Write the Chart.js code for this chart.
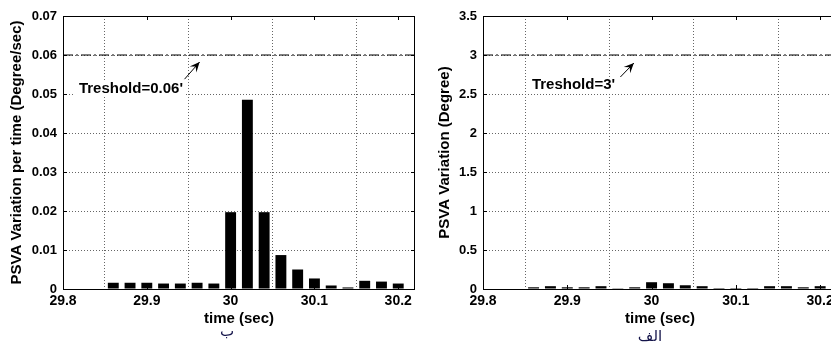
<!DOCTYPE html>
<html>
<head>
<meta charset="utf-8">
<script src="https://cdn.jsdelivr.net/npm/chart.js@4/dist/chart.umd.min.js"></script>
<style>
    html, body { margin: 0; padding: 0; background: #fff; overflow: hidden; width: 831px; height: 343px; }
    .panel { position: absolute; top: 0; width: 420px; height: 343px; }
    .caption { position: absolute; transform: translateX(-50%); font-family: "DejaVu Sans", sans-serif;
               font-size: 15px; line-height: 16px; color: #14144a; white-space: nowrap; }
</style>
</head>
<body>
<div class="panel" style="left:0"><canvas id="rate-canvas" width="420" height="343"></canvas></div>
<div class="panel" style="left:420px"><canvas id="variation-canvas" width="420" height="343"></canvas></div>
<div class="caption" style="left:227px; top:323px">ب</div>
<div class="caption" style="left:650px; top:328px">الف</div>
<script>
// bar centres (sec)
const barTimes = [29.86, 29.88, 29.90, 29.92, 29.94, 29.96, 29.98, 30.00, 30.02,
                  30.04, 30.06, 30.08, 30.10, 30.12, 30.14, 30.16, 30.18, 30.20];
// PSVA variation per time (Degree/sec)
const rateValues = [0.0016, 0.0016, 0.0016, 0.0014, 0.0014, 0.0016, 0.0014, 0.0197, 0.0485,
                    0.0197, 0.0087, 0.0050, 0.0027, 0.0009, 0.0004, 0.0021, 0.0019, 0.0014];
// PSVA variation (Degree)
const variationValues = [0.022, 0.036, 0.022, 0.022, 0.036, 0.01, 0.022, 0.087, 0.074,
                         0.048, 0.036, 0.012, 0.012, 0.012, 0.036, 0.036, 0.022, 0.036];

const xTickValues = [29.8, 29.9, 30, 30.1, 30.2];
const xTickLabels = ["29.8", "29.9", "30", "30.1", "30.2"];
const rateTickValues = [0, 0.01, 0.02, 0.03, 0.04, 0.05, 0.06, 0.07];
const rateTickLabels = ["0", "0.01", "0.02", "0.03", "0.04", "0.05", "0.06", "0.07"];
const variationTickValues = [0, 0.5, 1, 1.5, 2, 2.5, 3, 3.5];
const variationTickLabels = ["0", "0.5", "1", "1.5", "2", "2.5", "3", "3.5"];

const rateThreshold = 0.06;
const variationThreshold = 3;
const X_MIN = 29.8;
const X_MAX = 30.22;

const FONT = '"Liberation Sans", Arial, sans-serif';
Chart.defaults.font.family = FONT;
Chart.defaults.font.weight = "bold";
Chart.defaults.color = "#000";

// frame, inward ticks and the threshold note with its arrow
const frameAndNote = {
    id: "frameAndNote",
    afterDatasetsDraw(chart, args, opts) {
        const {ctx, chartArea: a, scales: {x, y}} = chart;
        ctx.save();

        // note text on a white box
        ctx.font = "bold 15px " + FONT;
        const tx = x.getPixelForValue(opts.textAt[0]);
        const ty = y.getPixelForValue(opts.textAt[1]);
        const w = ctx.measureText(opts.text).width;
        ctx.fillStyle = "#fff";
        ctx.fillRect(tx - 4, ty - 7, w + 6, 14);
        ctx.fillStyle = "#000";
        ctx.textBaseline = "middle";
        ctx.textAlign = "left";
        ctx.fillText(opts.text, tx, ty);

        // arrow
        const x0 = x.getPixelForValue(opts.arrowFrom[0]);
        const y0 = y.getPixelForValue(opts.arrowFrom[1]);
        const x1 = x.getPixelForValue(opts.arrowTo[0]);
        const y1 = y.getPixelForValue(opts.arrowTo[1]);
        const ang = Math.atan2(y1 - y0, x1 - x0);
        const hl = 10, hw = 4.5;
        ctx.strokeStyle = "#000";
        ctx.lineWidth = 1;
        ctx.beginPath();
        ctx.moveTo(x0, y0);
        ctx.lineTo(x1, y1);
        ctx.stroke();
        ctx.beginPath();
        ctx.moveTo(x1, y1);
        ctx.lineTo(x1 - hl * Math.cos(ang) + hw * Math.sin(ang), y1 - hl * Math.sin(ang) - hw * Math.cos(ang));
        ctx.lineTo(x1 - 0.6 * hl * Math.cos(ang), y1 - 0.6 * hl * Math.sin(ang));
        ctx.lineTo(x1 - hl * Math.cos(ang) - hw * Math.sin(ang), y1 - hl * Math.sin(ang) + hw * Math.cos(ang));
        ctx.closePath();
        ctx.fill();

        // box (bottom edge just under the bar bases)
        ctx.strokeRect(a.left + 0.5, a.top + 0.5, a.right - a.left - 1, a.bottom - a.top);

        // inward ticks
        ctx.beginPath();
        x.ticks.forEach((t) => {
            const px = Math.round(x.getPixelForValue(t.value)) + 0.5;
            ctx.moveTo(px, a.bottom);
            ctx.lineTo(px, a.bottom - 4);
            ctx.moveTo(px, a.top);
            ctx.lineTo(px, a.top + 4);
        });
        y.ticks.forEach((t) => {
            const py = Math.round(y.getPixelForValue(t.value)) + 0.5;
            ctx.moveTo(a.left, py);
            ctx.lineTo(a.left + 4, py);
            ctx.moveTo(a.right, py);
            ctx.lineTo(a.right - 4, py);
        });
        ctx.stroke();
        ctx.restore();
    },
};

function makeChart(canvasId, values, threshold, yTicks, yLabels, yTitle, titlePad, padRight, note) {
    const ctx = document.getElementById(canvasId).getContext("2d");
    return new Chart(ctx, {
        data: {
            datasets: [
                {
                    type: "line",
                    data: [{x: X_MIN, y: threshold}, {x: X_MAX, y: threshold}],
                    borderColor: "#000",
                    borderWidth: 1,
                    borderDash: [10, 3, 2, 3],
                    pointRadius: 0,
                },
                {
                    type: "bar",
                    data: barTimes.map((t, i) => ({x: t, y: values[i]})),
                    backgroundColor: "#000",
                    borderWidth: 0,
                    categoryPercentage: 1,
                    barPercentage: 0.65,
                },
            ],
        },
        options: {
            responsive: false,
            animation: false,
            layout: {padding: {left: 0, top: 16, right: padRight, bottom: 0}},
            plugins: {
                legend: {display: false},
                tooltip: {enabled: false},
                frameAndNote: note,
            },
            scales: {
                x: {
                    type: "linear",
                    min: X_MIN,
                    max: X_MAX,
                    offset: false,
                    afterBuildTicks: (scale) => {
                        scale.ticks = xTickValues.map((v) => ({value: v}));
                    },
                    afterFit: (scale) => {
                        scale.height = 54;
                    },
                    ticks: {
                        autoSkip: false,
                        maxRotation: 0,
                        padding: 4,
                        font: {size: 14, weight: "bold"},
                        callback: (v, i) => xTickLabels[i],
                    },
                    grid: {color: "#666", lineWidth: 1, drawTicks: false, borderDash: [1, 2]},
                    border: {display: false, dash: [1, 2]},
                    title: {
                        display: true,
                        text: "time (sec)",
                        font: {size: 15, weight: "bold"},
                        padding: {top: 0, bottom: 15},
                    },
                },
                y: {
                    min: yTicks[0],
                    max: yTicks[yTicks.length - 1],
                    afterBuildTicks: (scale) => {
                        scale.ticks = yTicks.map((v) => ({value: v}));
                    },
                    afterFit: (scale) => {
                        scale.width = 63;
                    },
                    ticks: {
                        padding: 6,
                        font: {size: 13, weight: "bold"},
                        callback: (v, i) => yLabels[i],
                    },
                    grid: {color: "#666", lineWidth: 1, drawTicks: false, borderDash: [1, 2]},
                    border: {display: false, dash: [1, 2]},
                    title: {
                        display: true,
                        text: yTitle,
                        font: {size: 15, weight: "bold"},
                        padding: {top: titlePad, bottom: 0},
                    },
                },
            },
        },
        plugins: [frameAndNote],
    });
}

makeChart("rate-canvas", rateValues, rateThreshold, rateTickValues, rateTickLabels,
    "PSVA Variation per time (Degree/sec)", 8, 5,
    {text: "Treshold=0.06'", textAt: [29.819, 0.0513], arrowFrom: [29.945, 0.0538], arrowTo: [29.963, 0.0582]});

makeChart("variation-canvas", variationValues, variationThreshold, variationTickValues, variationTickLabels,
    "PSVA Variation (Degree)", 16, 3,
    {text: "Treshold=3'", textAt: [29.858, 2.615], arrowFrom: [29.963, 2.718], arrowTo: [29.979, 2.897]});
</script>
</body>
</html>
